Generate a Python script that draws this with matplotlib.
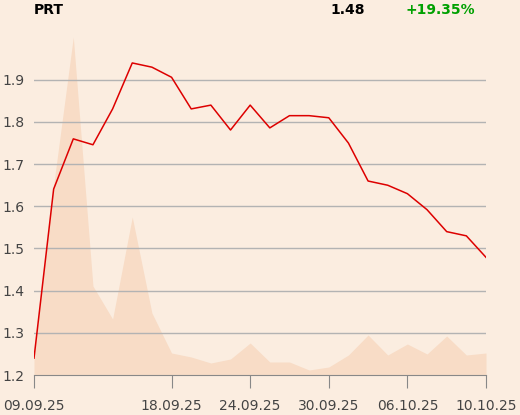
import matplotlib
matplotlib.use("Agg")
import matplotlib.pyplot as plt
import numpy as np

# trading days 09.09.25 .. 10.10.25
dates = ["09.09.25", "10.09.25", "11.09.25", "12.09.25", "15.09.25", "16.09.25",
         "17.09.25", "18.09.25", "19.09.25", "22.09.25", "23.09.25", "24.09.25",
         "25.09.25", "26.09.25", "29.09.25", "30.09.25", "01.10.25", "02.10.25",
         "03.10.25", "06.10.25", "07.10.25", "08.10.25", "09.10.25", "10.10.25"]
price = [1.240, 1.641, 1.760, 1.746, 1.831, 1.940, 1.930, 1.906, 1.831, 1.840,
         1.781, 1.840, 1.786, 1.815, 1.815, 1.810, 1.750, 1.660, 1.650, 1.630,
         1.592, 1.540, 1.530, 1.479]
volume = [17, 190, 338, 89, 56, 158, 62, 22, 18, 12, 16, 32, 13, 13, 5, 8,
          20, 40, 20, 31, 21, 39, 20, 22]
tick_labels = ["09.09.25", "18.09.25", "24.09.25", "30.09.25", "06.10.25", "10.10.25"]
yticks = [1.2, 1.3, 1.4, 1.5, 1.6, 1.7, 1.8, 1.9]

bg = "#fbede0"
W, H = 520, 415
fig = plt.figure(figsize=(5.2, 4.15), dpi=100, facecolor=bg)
ax = fig.add_axes([34 / W, (H - 375) / H, (486 - 34) / W, (375 - 25) / H])
ax.set_facecolor(bg)

x = np.arange(len(dates))

# volume in background
axv = ax.twinx()
axv.fill_between(x, 0, volume, color="#f8dcc6", lw=0)
axv.set_ylim(0, max(volume) * 350 / 338)
axv.axis("off")
ax.set_zorder(axv.get_zorder() + 1)
ax.patch.set_visible(False)
fig.patch.set_facecolor(bg)

for v in yticks[1:]:
    ax.axhline(v, color="#b3b3b3", lw=1, zorder=1)
ax.plot(x, price, color="#dd0000", lw=1.1, zorder=3)

ax.set_xlim(0, len(dates) - 1)
ax.set_ylim(1.2, 2.03)
ax.set_yticks(yticks)
ax.set_yticklabels([f"{v:.1f}" for v in yticks])
pos = [dates.index(t) for t in tick_labels]
ax.set_xticks(pos)
ax.set_xticklabels(tick_labels)

for s in ["top", "right", "left"]:
    ax.spines[s].set_visible(False)
ax.spines["bottom"].set_color("#888888")
ax.tick_params(axis="x", length=9, color="#888888", pad=8, labelsize=10, labelcolor="#444444")
ax.tick_params(axis="y", length=0, pad=7, labelsize=10, labelcolor="#444444")

fig.text(34 / W, 1 - 10 / H, "PRT", fontsize=10, fontweight="bold", va="center", ha="left")
fig.text(348 / W, 1 - 10 / H, "1.48", fontsize=10, fontweight="bold", va="center", ha="center")
fig.text(440 / W, 1 - 10 / H, "+19.35%", fontsize=10, fontweight="bold", color="#00a000",
         va="center", ha="center")

fig.savefig("out.png", dpi=100, facecolor=bg)
